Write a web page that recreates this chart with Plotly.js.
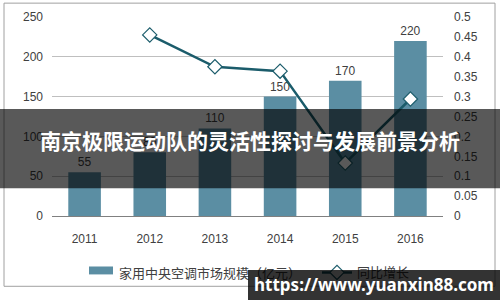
<!DOCTYPE html>
<html>
<head>
<meta charset="utf-8">
<script src="https://cdn.plot.ly/plotly-3.0.1.min.js"></script>
<style>
html,body{margin:0;padding:0;background:#fff}
#wrap{position:relative;width:500px;height:300px}
#chart{width:500px;height:300px}
#wm{position:absolute;left:248px;top:270px;width:252px;height:30px;background:rgba(0,0,0,0.8);
  color:#fff;font-family:'Noto Sans','DejaVu Sans',sans-serif;font-weight:bold;font-size:17px;
  line-height:30px;text-align:center;white-space:nowrap}
</style>
</head>
<body>
<div id="wrap"><div id="chart"></div><div id="wm"></div></div>
<script>
const years = ['2011', '2012', '2013', '2014', '2015', '2016'];
const marketSize = [55, 80, 110, 150, 170, 220];
const growthYears = ['2012', '2013', '2014', '2015', '2016'];
const growthRate = [0.455, 0.375, 0.364, 0.133, 0.294];
const leftTicks = [0, 50, 100, 150, 200, 250];
const rightTicks = [0, 0.05, 0.1, 0.15, 0.2, 0.25, 0.3, 0.35, 0.4, 0.45, 0.5];
const barName = '家用中央空调市场规模（亿元）';
const lineName = '同比增长';
const bannerText = '南京极限运动队的灵活性探讨与发展前景分析';
const watermarkText = 'https://www.yuanxin88.com';

document.getElementById('wm').textContent = watermarkText;

const font = 'Liberation Sans, Arial, Noto Sans CJK SC, sans-serif';
const cjk = 'Noto Sans CJK SC, sans-serif';
const teal = '#1b5c6b';
const barColor = '#5b8ea3';
const W = 391, H = 201, L = 52, T = 17, B0 = 218;
const px = x => (x - L) / W;
const py = y => (B0 - y) / H;

const traces = [
  {
    type: 'bar', x: years, y: marketSize, name: barName, showlegend: false,
    marker: {color: barColor},
    text: marketSize.map(String), textposition: 'outside',
    textfont: {family: font, size: 12, color: '#404040'},
    cliponaxis: false
  },
  {
    type: 'scatter', mode: 'lines+markers', x: growthYears, y: growthRate, name: lineName,
    yaxis: 'y2',
    line: {color: teal, width: 2.5},
    marker: {symbol: 'diamond', size: 11, color: '#ffffff', line: {color: teal, width: 1.2}}
  }
];

const layout = {
  width: 500, height: 300,
  margin: {l: 52, r: 57, t: 17, b: 82},
  paper_bgcolor: '#ffffff', plot_bgcolor: '#ffffff',
  font: {family: font, size: 12, color: '#404040'},
  bargap: 0.5,
  showlegend: true,
  legend: {orientation: 'h', x: px(317), xanchor: 'left', y: py(275), yanchor: 'middle',
    bgcolor: 'rgba(0,0,0,0)', font: {family: cjk, size: 13, color: '#404040'}, itemwidth: 30},
  xaxis: {type: 'category', tickfont: {size: 12, color: '#404040'}, showgrid: false,
    showline: true, linecolor: '#808080', linewidth: 1, ticks: '', ticklabelstandoff: 12, fixedrange: true},
  yaxis: {range: [0, 250], tickvals: leftTicks, ticktext: leftTicks.map(String),
    showgrid: true, gridcolor: '#bfbfbf', gridwidth: 1, zeroline: false,
    ticks: '', ticklabelstandoff: 8, tickfont: {size: 12, color: '#404040'}},
  yaxis2: {range: [0, 0.5], overlaying: 'y', side: 'right', tickvals: rightTicks,
    ticktext: rightTicks.map(v => String(v)), showgrid: false, zeroline: false,
    ticks: '', ticklabelstandoff: 10, tickfont: {size: 12, color: '#404040'}},
  shapes: [
    {type: 'rect', xref: 'paper', yref: 'paper', layer: 'below',
      x0: px(4), x1: px(495), y0: py(289), y1: py(3),
      line: {color: '#a0a0a0', width: 1}, fillcolor: 'rgba(0,0,0,0)'},
    {type: 'rect', xref: 'paper', yref: 'paper', layer: 'above',
      x0: px(89), x1: px(113), y0: py(277), y1: py(269),
      line: {width: 0}, fillcolor: barColor},
    {type: 'rect', xref: 'paper', yref: 'paper', layer: 'above',
      x0: px(0), x1: px(500), y0: py(190), y1: py(110),
      line: {width: 0}, fillcolor: 'rgba(0,0,0,0.65)'}
  ],
  annotations: [
    {xref: 'paper', yref: 'paper', x: px(117), y: py(275), xanchor: 'left', yanchor: 'middle',
      text: barName, showarrow: false, font: {family: cjk, size: 13, color: '#404040'}},
    {xref: 'paper', yref: 'paper', x: px(250), y: py(141), xanchor: 'center', yanchor: 'middle',
      text: '<b>' + bannerText + '</b>', showarrow: false,
      font: {family: cjk, size: 21, color: '#ffffff'}}
  ]
};

Plotly.newPlot('chart', traces, layout, {displayModeBar: false, staticPlot: true});
</script>
</body>
</html>
